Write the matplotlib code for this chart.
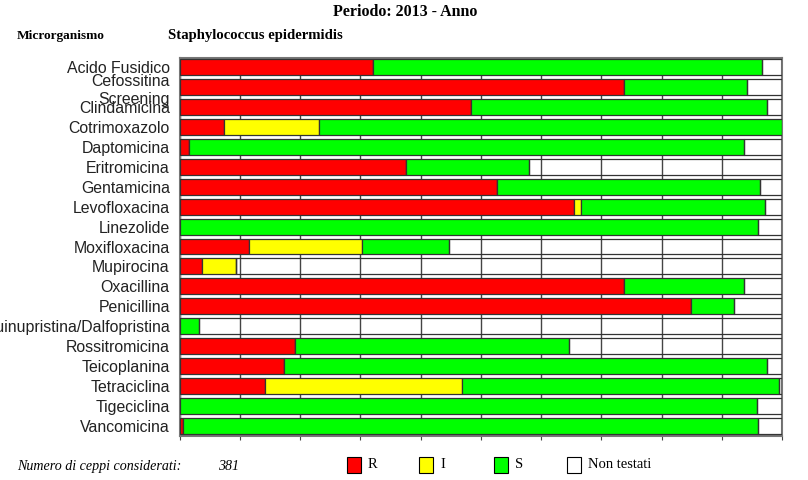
import matplotlib
matplotlib.use("Agg")
import matplotlib.pyplot as plt
import numpy as np
from matplotlib.patches import Rectangle

# antibiotic names, top to bottom
farmaci = ["Acido Fusidico", "Cefossitina\nScreening", "Clindamicina", "Cotrimoxazolo",
           "Daptomicina", "Eritromicina", "Gentamicina", "Levofloxacina", "Linezolide",
           "Moxifloxacina", "Mupirocina", "Oxacillina", "Penicillina",
           "Quinupristina/Dalfopristina", "Rossitromicina", "Teicoplanina",
           "Tetraciclina", "Tigeciclina", "Vancomicina"]
# percentages (R, I, S); Non testati = remainder
res_R = [32.1, 73.8, 48.3, 7.4, 1.6, 37.6, 52.7, 65.4, 0.0, 11.5, 3.7, 73.8, 84.9,
         0.0, 19.2, 17.3, 14.2, 0.0, 0.5]
res_I = [0.0, 0.0, 0.0, 15.8, 0.0, 0.0, 0.0, 1.3, 0.0, 18.8, 5.6, 0.0, 0.0,
         0.0, 0.0, 0.0, 32.7, 0.0, 0.0]
res_S = [64.6, 20.3, 49.2, 76.8, 92.1, 20.4, 43.7, 30.4, 96.0, 14.4, 0.0, 19.9, 7.1,
         3.2, 45.4, 80.2, 52.6, 95.8, 95.5]
n_ceppi = 381

R = np.array(res_R); I = np.array(res_I); S = np.array(res_S)
NT = np.clip(100 - R - I - S, 0, None)

INK = "#333333"
fig = plt.figure(figsize=(8.08, 4.8), dpi=100)
ax = fig.add_axes([0.2222, 0.0927, 0.7457, 0.7875])
y = np.arange(len(farmaci))
h = 0.8
ax.set_axisbelow(True)
ax.grid(axis="x", color="#444444", lw=1.0)
kw = dict(height=h, edgecolor=INK, lw=0.9, zorder=3)
ax.barh(y, R, color="#FF0000", **kw)
ax.barh(y, I, left=R, color="#FFFF00", **kw)
ax.barh(y, S, left=R + I, color="#00FF00", **kw)
ax.barh(y, NT, left=R + I + S, color="none", **kw)

ax.set_xlim(0, 100); ax.set_ylim(len(farmaci) - 0.5, -0.5)
ax.set_xticks(np.arange(0, 101, 10)); ax.set_xticklabels([])
ax.tick_params(axis="x", length=3, color="#444444")
ax.set_yticks(y)
ax.set_yticklabels(farmaci, fontsize=11.4, family="Liberation Sans", color="#222222",
                   linespacing=1.3)
ax.tick_params(axis="y", length=0, pad=7)
for s in ax.spines.values():
    s.set_color("#777777"); s.set_linewidth(1.5)

serif = "Liberation Serif"
fig.text(0.502, 0.975, "Periodo: 2013 - Anno", ha="center", va="center",
         fontsize=11.5, fontweight="bold", family=serif)
fig.text(0.021, 0.925, "Microrganismo", ha="left", va="center",
         fontsize=9.6, fontweight="bold", family=serif)
fig.text(0.208, 0.925, "Staphylococcus epidermidis", ha="left", va="center",
         fontsize=10.6, fontweight="bold", family=serif)
fig.text(0.021, 0.028, "Numero di ceppi considerati:", ha="left", va="center",
         fontsize=10.1, fontstyle="italic", family=serif)
fig.text(0.27, 0.028, str(n_ceppi), ha="left", va="center",
         fontsize=10.1, fontstyle="italic", family=serif)

legenda = [("R", "#FF0000", 347), ("I", "#FFFF00", 419), ("S", "#00FF00", 494),
           ("Non testati", "white", 567)]
for lab, col, px in legenda:
    fig.patches.append(Rectangle((px / 808, 7 / 480), 14 / 808, 16 / 480,
                                 transform=fig.transFigure, facecolor=col,
                                 edgecolor="black", lw=0.8))
    fig.text((px + 21) / 808, 0.033, lab, ha="left", va="center",
             fontsize=10.5, family=serif)

fig.savefig("out.png", facecolor="white")
